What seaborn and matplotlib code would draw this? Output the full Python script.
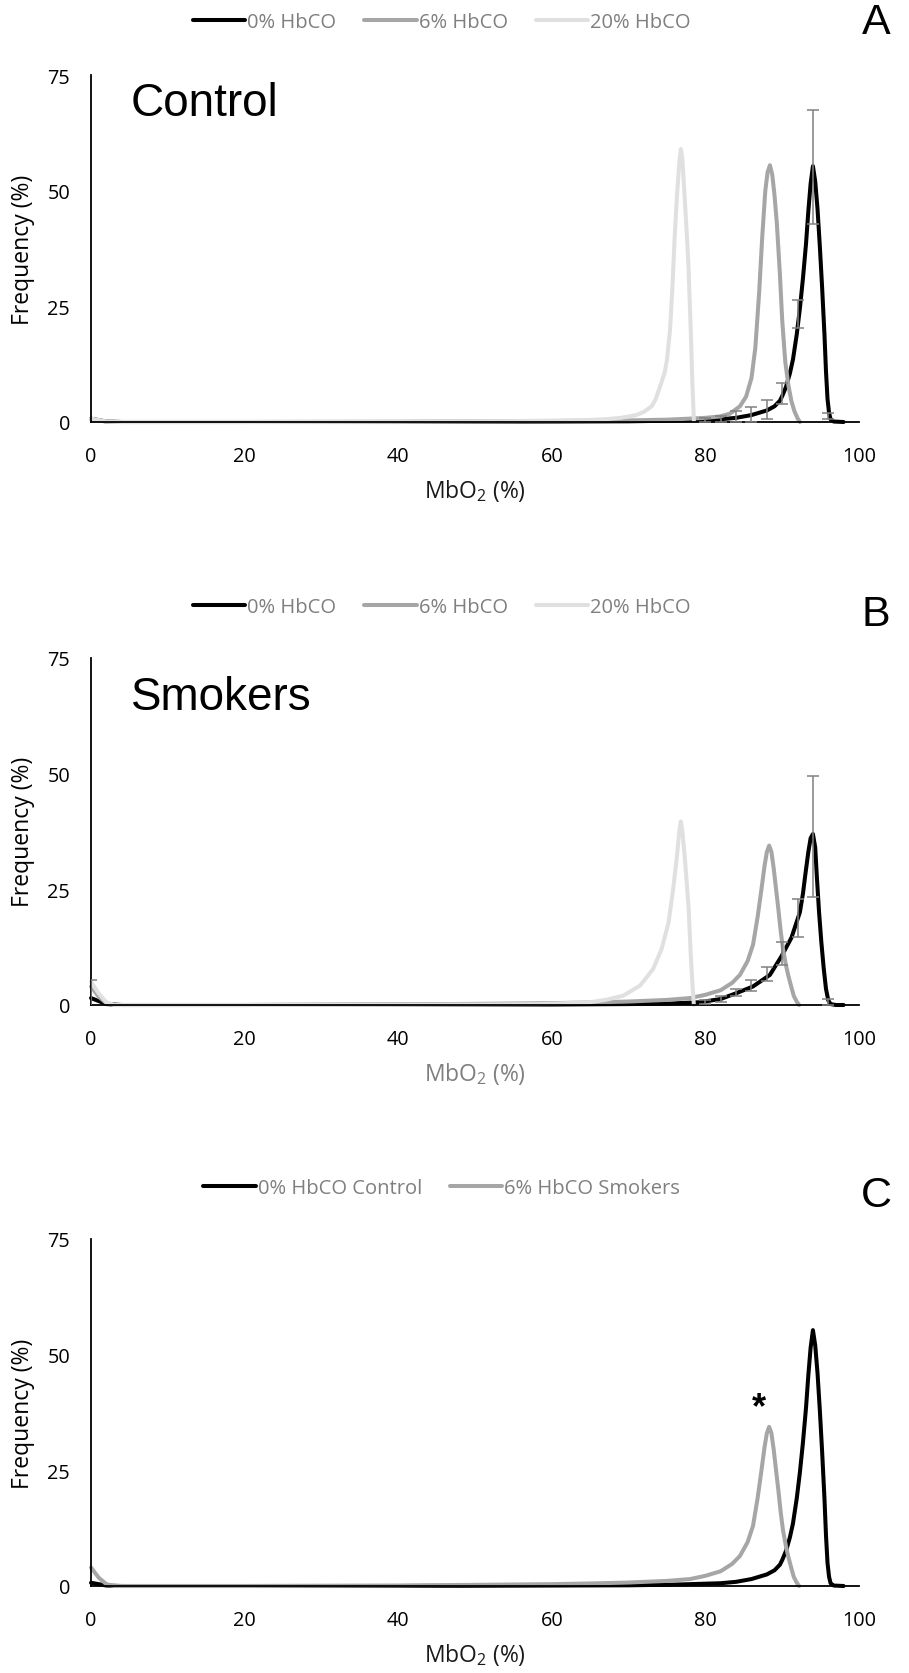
import matplotlib
matplotlib.use("Agg")
import matplotlib.pyplot as plt
import seaborn as sns
import numpy as np
import pandas as pd
from matplotlib.lines import Line2D

sns.set_theme(style="white")
plt.rcParams['font.family'] = ['Open Sans', 'DejaVu Sans']
plt.rcParams['mathtext.fontset'] = 'custom'
plt.rcParams['mathtext.rm'] = 'Open Sans'

# ---------------- data ----------------
# Control, 0% HbCO (also used in panel C)
ctrl0_x = [0, 2, 4, 20, 40, 60, 70, 76, 80, 82, 84, 86, 88, 89, 89.7, 90.0, 90.5, 91.0, 91.4, 91.9, 92.3, 92.7,
           93.1, 93.4, 93.7, 94.0, 94.3, 94.6, 94.9, 95.2, 95.5, 95.7, 95.9, 96.1, 96.3, 96.7, 98]
ctrl0_y = [0.7, 0.1, 0, 0, 0, 0.1, 0.15, 0.3, 0.5, 0.6, 0.9, 1.5, 2.5, 3.4, 4.6, 5.6, 7.6, 10.5, 13.5, 19, 24.5, 31,
           38.5, 45.5, 51.5, 55.3, 52, 46, 38, 29, 19, 11, 5, 2, 0.6, 0.1, 0]
# Control, 6% HbCO
ctrl6_x = [0, 2, 4, 20, 40, 60, 70, 75, 77, 80, 81.9, 83.2, 84.5, 85.3, 86.0, 86.5, 87.0, 87.4, 87.8, 88.1, 88.4,
           88.7, 89.0, 89.3, 89.7, 90.0, 90.4, 90.8, 91.2, 91.6, 92.0, 92.3]
ctrl6_y = [0.7, 0.1, 0, 0, 0.05, 0.2, 0.35, 0.5, 0.65, 0.9, 1.2, 1.8, 3.4, 5.5, 9.5, 16, 28, 40, 50, 54, 55.5,
           53.5, 49, 43, 32, 22, 13, 8, 4.5, 2.3, 0.8, 0]
# Control, 20% HbCO
ctrl20_x = [0, 2, 4, 20, 40, 55, 60, 65, 67, 69, 71, 72, 73, 73.5, 74.0, 74.7, 75.0, 75.4, 75.7, 76.0, 76.3, 76.6,
            76.8, 77.0, 77.3, 77.6, 77.8, 78.1, 78.3, 78.5]
ctrl20_y = [0.7, 0.1, 0, 0, 0.1, 0.2, 0.3, 0.45, 0.6, 0.9, 1.5, 2.2, 3.4, 4.8, 7.2, 10.7, 13.5, 20, 29, 40, 49, 56,
            59, 57, 48.5, 40, 33.5, 19.5, 8.6, 0.3]

# Smokers, 0% HbCO
smk0_x = [0, 2, 4, 20, 40, 60, 70, 75, 79.3, 82, 84.1, 86.2, 88.4, 89.9, 91.2, 92.3, 92.7, 93.0, 93.4, 93.7, 94.0,
          94.3, 94.5, 94.8, 95.1, 95.4, 95.7, 96.0, 96.3, 97, 98]
smk0_y = [1.5, 0.2, 0, 0, 0.05, 0.1, 0.2, 0.3, 0.6, 1.3, 2.6, 4.0, 6.5, 10.5, 14.5, 20, 24, 28, 33, 36, 36.9,
          34, 28, 20, 13.5, 8, 3.5, 1, 0.2, 0, 0]
# Smokers, 6% HbCO (also used in panel C)
smk6_x = [0, 1, 2, 3, 20, 40, 60, 65, 70, 75, 78, 80, 82, 83.5, 84.5, 85.5, 86.2, 86.8, 87.3, 87.7, 88.0, 88.3,
          88.6, 88.9, 89.2, 89.5, 89.8, 90.1, 90.5, 90.8, 91.2, 91.5, 91.9, 92.2]
smk6_y = [4.0, 1.8, 0.4, 0, 0, 0.1, 0.4, 0.55, 0.75, 1.1, 1.5, 2.2, 3.2, 4.8, 6.5, 9.5, 13, 19, 25, 30, 33, 34.4,
          33, 29.4, 25, 20.7, 16, 12.1, 8.5, 6.3, 3.8, 2, 0.7, 0]
# Smokers, 20% HbCO
smk20_x = [0, 1, 2, 3, 20, 40, 50, 58.5, 65, 67, 69.3, 71.5, 73.2, 74.3, 75.2, 75.8, 76.3, 76.6, 76.8, 77.0, 77.3,
           77.8, 78.1, 78.35, 78.5]
smk20_y = [5.0, 2.5, 0.6, 0, 0, 0.05, 0.1, 0.2, 0.6, 1.1, 2.0, 4.2, 7.8, 12.1, 17.8, 25, 32.2, 37.5, 39.6, 37.5,
           32.2, 21.4, 10.6, 3.5, 0]

# error bars (on the 0% HbCO series)
ctrl_err_x = [80, 82, 84, 86, 88, 90, 92, 94, 96]
ctrl_err_y = [0.5, 0.6, 1.2, 1.6, 2.7, 6.1, 23.4, 55.1, 1.3]
ctrl_err_e = [0.4, 0.6, 1.1, 1.6, 2.1, 2.3, 3.0, 12.3, 0.6]
smk_err_x = [0, 80, 82, 84, 86, 88, 90, 92, 94, 96]
smk_err_y = [1.5, 0.7, 1.3, 2.7, 4.2, 6.6, 11.1, 18.7, 36.4, 0.7]
smk_err_e = [4.0, 0.4, 0.6, 0.8, 1.1, 1.5, 2.5, 4.1, 13.1, 0.7]

labels_ab = ["0% HbCO", "6% HbCO", "20% HbCO"]
labels_c = ["0% HbCO Control", "6% HbCO Smokers"]
x_ticks = [0, 20, 40, 60, 80, 100]
y_ticks = [0, 25, 50, 75]

C_BLACK = "#000000"
C_GRAY = "#a6a6a6"
C_LIGHT = "#e0e0e0"
C_ERR = "#808080"
C_TEXT = "#7f7f7f"

# ---------------- figure ----------------
W, H = 909, 1674
fig = plt.figure(figsize=(W / 100, H / 100), dpi=100)

def axes_px(left, top, right, bottom):
    return fig.add_axes([left / W, 1 - bottom / H, (right - left) / W, (bottom - top) / H])

axA = axes_px(91, 76, 859, 423)
axB = axes_px(91, 658.5, 859, 1006)
axC = axes_px(91, 1240, 859, 1587)

LW = 2.9

def draw_series(ax, xs, ys, color):
    df = pd.DataFrame({"x": xs, "y": ys})
    sns.lineplot(data=df, x="x", y="y", ax=ax, color=color, linewidth=LW,
                 estimator=None, sort=True, clip_on=False, legend=False)

def style_axes(ax, xlabel_color):
    ax.set_xlim(0, 100)
    ax.set_ylim(0, 75)
    ax.set_xticks(x_ticks)
    ax.set_yticks(y_ticks)
    for s in ["top", "right"]:
        ax.spines[s].set_visible(False)
    for s in ["left", "bottom"]:
        ax.spines[s].set_color("black")
        ax.spines[s].set_linewidth(1.3)
    ax.tick_params(axis="x", direction="in", length=5, width=1.3, color="black",
                   pad=17, labelsize=14.3, labelcolor="black")
    ax.tick_params(axis="y", direction="in", length=5, width=1.3, color="black",
                   pad=15, labelsize=14.3, labelcolor="black")
    ax.set_xlabel("MbO$_2$ (%)", fontsize=16.5, color=xlabel_color, labelpad=8)
    ax.set_ylabel("Frequency (%)", fontsize=16.5, color="black", labelpad=9)
    ax.set_facecolor("white")

def add_legend(y_frac, labels, colors):
    handles = [Line2D([0], [0], color=c, lw=LW) for c in colors]
    leg = fig.legend(handles, labels, loc="center", bbox_to_anchor=(0.486, y_frac), ncol=len(labels),
                     frameon=False, fontsize=14.5, handlelength=2.6, handletextpad=0.1,
                     columnspacing=1.4, borderaxespad=0)
    for t in leg.get_texts():
        t.set_color(C_TEXT)

# Panel A
draw_series(axA, ctrl0_x, ctrl0_y, C_BLACK)
draw_series(axA, ctrl6_x, ctrl6_y, C_GRAY)
draw_series(axA, ctrl20_x, ctrl20_y, C_LIGHT)
axA.errorbar(ctrl_err_x, ctrl_err_y, yerr=ctrl_err_e, fmt="none", ecolor=C_ERR,
             elinewidth=1.1, capsize=4, capthick=1.1, zorder=4)
style_axes(axA, "#1a1a1a")
axA.text(0.052, 0.92, "Control", transform=axA.transAxes, fontsize=33,
         family="Liberation Sans", va="center", ha="left", color="black")

# Panel B
draw_series(axB, smk0_x, smk0_y, C_BLACK)
draw_series(axB, smk6_x, smk6_y, C_GRAY)
draw_series(axB, smk20_x, smk20_y, C_LIGHT)
axB.errorbar(smk_err_x, smk_err_y, yerr=smk_err_e, fmt="none", ecolor=C_ERR,
             elinewidth=1.1, capsize=4, capthick=1.1, zorder=4)
style_axes(axB, C_TEXT)
axB.text(0.052, 0.885, "Smokers", transform=axB.transAxes, fontsize=33,
         family="Liberation Sans", va="center", ha="left", color="black")

# Panel C
draw_series(axC, ctrl0_x, ctrl0_y, C_BLACK)
draw_series(axC, smk6_x, smk6_y, C_GRAY)
style_axes(axC, "#1a1a1a")
axC.text(87.0, 38.6, "*", fontsize=26, family="Liberation Sans", ha="center", va="center",
         color="black", fontweight="bold")

add_legend(1 - 23.5 / H, labels_ab, [C_BLACK, C_GRAY, C_LIGHT])
add_legend(1 - 607.6 / H, labels_ab, [C_BLACK, C_GRAY, C_LIGHT])
add_legend(1 - 1188.6 / H, labels_c, [C_BLACK, C_GRAY])

for lab, ypx in [("A", 23.5), ("B", 615), ("C", 1196)]:
    fig.text(876 / W, 1 - ypx / H, lab, fontsize=31, family="Liberation Sans",
             ha="center", va="center", color="black")

fig.savefig("out.png", dpi=100, facecolor="white")
